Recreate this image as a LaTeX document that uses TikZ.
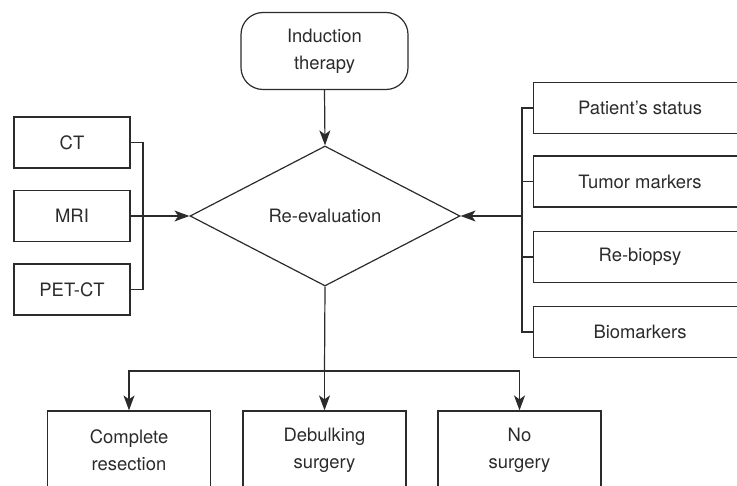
\documentclass[tikz,border=0pt]{standalone}
\usepackage{fontspec}
\setmainfont{TeX Gyre Heros}
\usetikzlibrary{arrows.meta,shapes.geometric}
\definecolor{inkgray}{HTML}{2B2B2B}
\tikzset{
	flowbox/.style={draw=inkgray, line width=1.2bp, text=inkgray, align=center, inner sep=0pt, font=\fontsize{18.5}{27}\selectfont},
	flowarrow/.style={draw=inkgray, line width=1.2bp, -{Stealth[length=15bp, width=11bp, inset=4bp]}},
	flowline/.style={draw=inkgray, line width=1.2bp}
}

\begin{document}
\begin{tikzpicture}[x=1bp, y=-1bp]
		%%%%% START %%%%%
		\useasboundingbox (0, 0) rectangle (737, 486);
		\clip (0, 0) rectangle (737, 486);
		
		\node[flowbox, rounded corners=22bp, minimum width=167bp, minimum height=77bp] (induc) at (324.5, 51) {Induction\\therapy};
		\node[flowbox, diamond, minimum width=270bp, minimum height=140bp] (reeval) at (325, 216) {Re-evaluation};
		
		\node[flowbox, minimum width=116bp, minimum height=51bp] (ct) at (72, 142.5) {CT};
		\node[flowbox, minimum width=116bp, minimum height=51bp] (mri) at (72, 216) {MRI};
		\node[flowbox, minimum width=116bp, minimum height=51bp] (petct) at (72, 289.5) {PET-CT};
		\coordinate (lbr) at (143, 216);
		
		\node[flowbox, minimum width=213bp, minimum height=51bp] (status) at (640, 108) {Patient’s status};
		\node[flowbox, minimum width=213bp, minimum height=51bp] (tumor) at (640, 181.5) {Tumor markers};
		\node[flowbox, minimum width=213bp, minimum height=51bp] (rebiop) at (640, 257) {Re-biopsy};
		\node[flowbox, minimum width=213bp, minimum height=51bp] (biomk) at (640, 332) {Biomarkers};
		\coordinate (rbr) at (522, 216);
		
		\node[flowbox, minimum width=163bp, minimum height=79bp] (compl) at (129, 450.5) {Complete\\resection};
		\node[flowbox, minimum width=163bp, minimum height=79bp] (debulk) at (324.5, 450.5) {Debulking\\surgery};
		\node[flowbox, minimum width=163bp, minimum height=79bp] (nosurg) at (519.5, 450.5) {No\\surgery};
		\coordinate (bar) at (324.5, 371);
		
		\draw[flowarrow] (induc.south) -- (reeval.north);
		
		\draw[flowline] (ct.east) -| (lbr) |- (petct.east);
		\draw[flowarrow] (mri.east) -- (reeval.west);
		
		\draw[flowline] (status.west) -| (rbr) |- (biomk.west);
		\draw[flowline] (tumor.west) -- (tumor.west -| rbr);
		\draw[flowline] (rebiop.west) -- (rebiop.west -| rbr);
		\draw[flowarrow] (rbr) -- (reeval.east);
		
		\draw[flowline] (reeval.south) -- (bar);
		\draw[flowarrow] (bar) -| (compl.north);
		\draw[flowarrow] (bar) -- (debulk.north);
		\draw[flowarrow] (bar) -| (nosurg.north);
		
		%%%%% END %%%%%
	\end{tikzpicture}
\end{document}
